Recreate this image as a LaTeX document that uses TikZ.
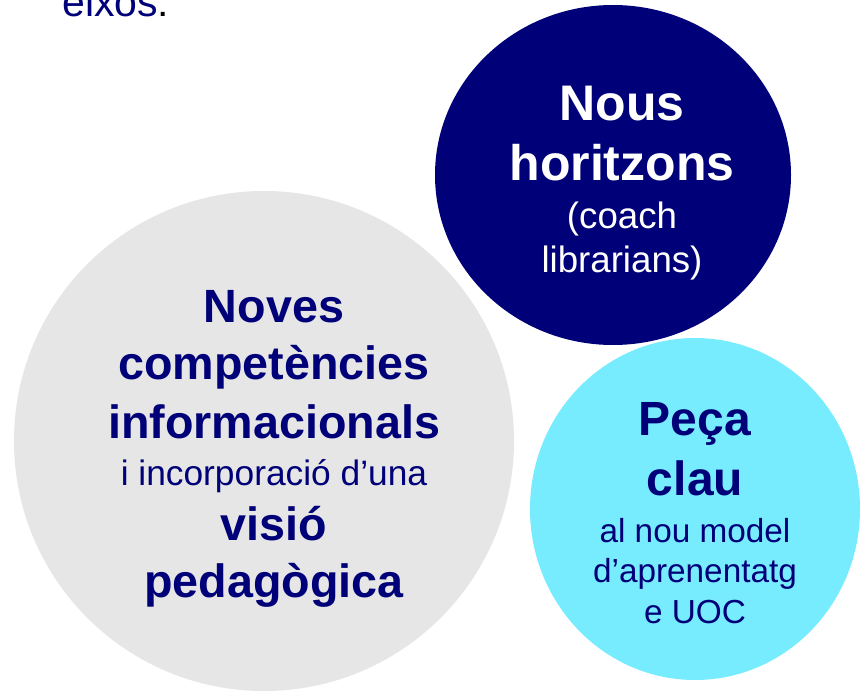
\documentclass[tikz,border=0pt]{standalone}
\usepackage{fontspec}
\setmainfont{Liberation Sans}
\usepackage{tikz}

\definecolor{uocnavy}{RGB}{0,0,120}
\definecolor{uoccyan}{RGB}{120,236,255}
\definecolor{uocgray}{RGB}{230,230,230}

\tikzset{
  bigtxt/.style={anchor=base,inner sep=0.75pt,font=\fontsize{35}{42}\bfseries},
  smalltxt/.style={anchor=base,inner sep=0.75pt,font=\fontsize{26.5}{32}\selectfont},
  cyantxt/.style={anchor=base,inner sep=0.75pt,font=\fontsize{25}{30}\selectfont}
}

\begin{document}
\begin{tikzpicture}[x=0.75pt,y=0.75pt,yscale=-1,xscale=1]
\useasboundingbox (0,0) rectangle (864,699);
\fill[white] (0,0) rectangle (864,699);
% the three circles
\fill[uocgray] (264,441) circle [radius=187.5pt];
\fill[uocnavy] (613,175) ellipse [x radius=133.5pt,y radius=127.5pt];
\fill[uoccyan] (695,509) ellipse [x radius=123.75pt,y radius=128.25pt];
% heading
\draw (62,17) node (eixos) [anchor=base west,inner sep=0pt,font=\fontsize{30.75}{36}\selectfont] {\textcolor{uocnavy}{eixos}:};
% navy circle
\draw (622,120) node (nous) [bigtxt,white,font=\fontsize{37.5}{44}\bfseries] {Nous};
\draw (622,180) node (horitzons) [bigtxt,white,font=\fontsize{37.5}{44}\bfseries] {horitzons};
\draw (622,228) node (coach) [smalltxt,white,font=\fontsize{27.5}{33}\selectfont] {(coach};
\draw (622,272) node (librarians) [smalltxt,white,font=\fontsize{27.5}{33}\selectfont] {librarians)};
% gray circle
\draw (274,322) node (noves) [bigtxt,uocnavy] {Noves};
\draw (274,379) node (competencies) [bigtxt,uocnavy] {competències};
\draw (274,438) node (informacionals) [bigtxt,uocnavy] {informacionals};
\draw (274,485) node (incorporacio) [smalltxt,uocnavy] {i incorporació d’una};
\draw (274,540) node (visio) [bigtxt,uocnavy] {visió};
\draw (274,597) node (pedagogica) [bigtxt,uocnavy] {pedagògica};
% cyan circle
\draw (695,435) node (peca) [bigtxt,uocnavy,font=\fontsize{36}{43}\bfseries] {Peça};
\draw (695,495) node (clau) [bigtxt,uocnavy,font=\fontsize{36}{43}\bfseries] {clau};
\draw (695,542) node (model) [cyantxt,uocnavy] {al nou model};
\draw (695,582) node (aprenentatg) [cyantxt,uocnavy] {d’aprenentatg};
\draw (695,623) node (uoc) [cyantxt,uocnavy] {e UOC};
\end{tikzpicture}
\end{document}
